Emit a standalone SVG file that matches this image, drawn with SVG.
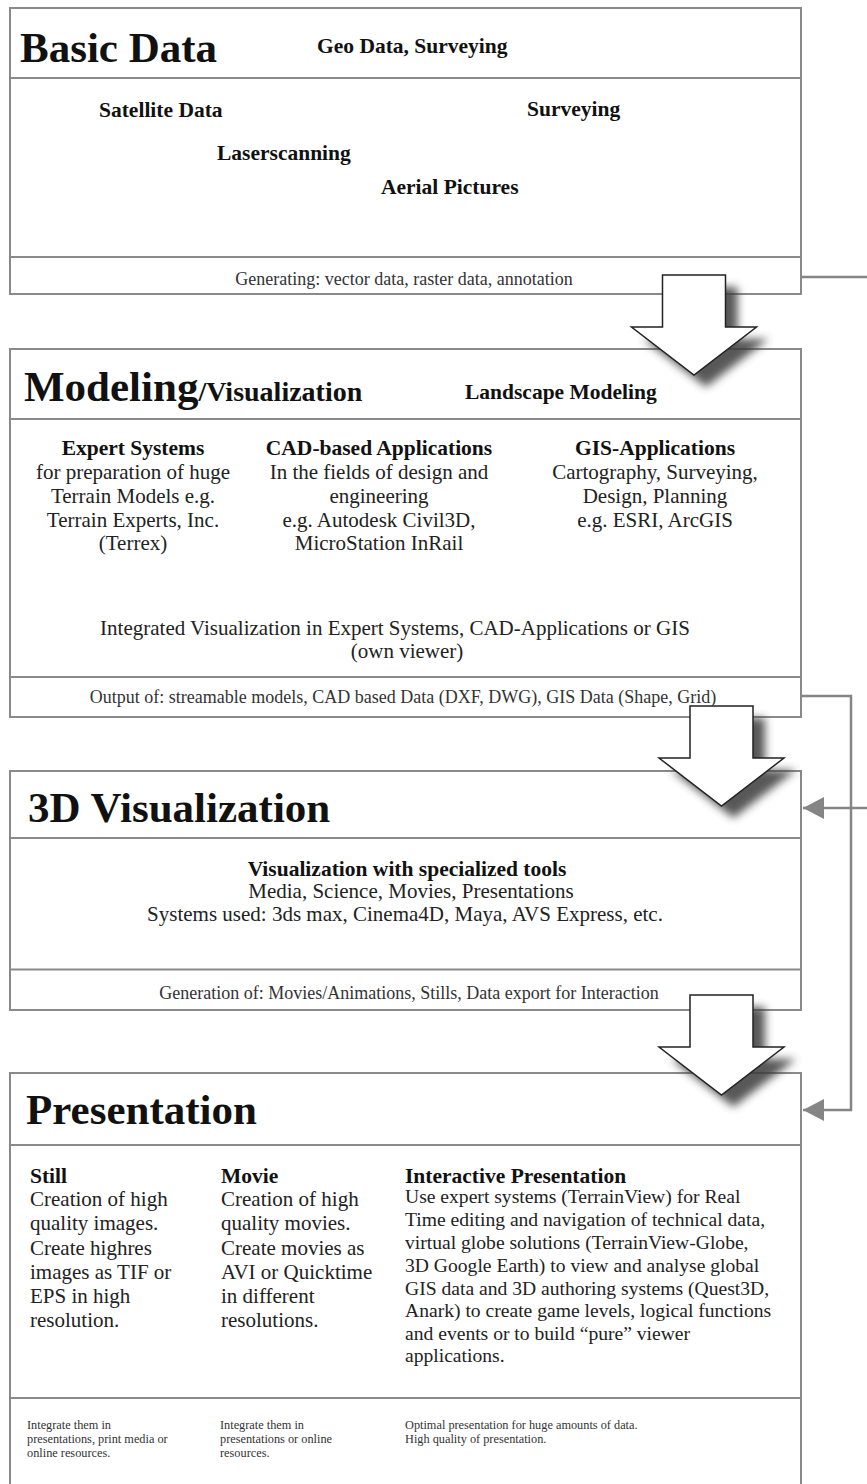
<svg xmlns="http://www.w3.org/2000/svg" width="867" height="1484" viewBox="0 0 867 1484">
<style>
.box{fill:#fff;stroke:#8a8a8a;stroke-width:2}
.sep{stroke:#8a8a8a;stroke-width:2;fill:none}
.title{font-family:"Liberation Serif",serif;font-weight:bold;font-size:43px;fill:#111}
.sub{font-family:"Liberation Serif",serif;font-weight:bold;font-size:21.5px;fill:#111}
.body{font-family:"Liberation Serif",serif;font-size:21px;fill:#222}
.ib{font-family:"Liberation Serif",serif;font-size:19.6px;fill:#222}
.foot{font-family:"Liberation Serif",serif;font-size:18px;fill:#333}
.small{font-family:"Liberation Serif",serif;font-size:12.3px;fill:#333}
.mid{text-anchor:middle}
.conn{stroke:#858585;stroke-width:2.5;fill:none}
.arrow{fill:#fff;stroke:#222;stroke-width:1.5;stroke-linejoin:miter}
.shadow{fill:#3a3a3a;opacity:0.85}
</style>
<defs>
<path id="blk" d="M-31.5,0 H31.5 V52 H62.5 L0,100 L-62.5,52 H-31.5 Z"/>
<filter id="blur" x="-30%" y="-30%" width="160%" height="160%"><feGaussianBlur stdDeviation="4"/></filter>
<marker id="ah" markerUnits="userSpaceOnUse" markerWidth="22" markerHeight="22" refX="21" refY="11" orient="auto">
<path d="M0,0 L21,11 L0,22 Z" fill="#858585"/>
</marker>
</defs>

<g id="basic-data">
<rect class="box" x="10" y="8" width="791" height="286"/>
<line class="sep" x1="10" y1="78" x2="801" y2="78"/>
<line class="sep" x1="10" y1="257" x2="801" y2="257"/>
<text class="title" x="20" y="62">Basic Data</text>
<text class="sub" x="317" y="53">Geo Data, Surveying</text>
<text class="sub" x="99" y="117">Satellite Data</text>
<text class="sub" x="527" y="116">Surveying</text>
<text class="sub" x="217" y="160">Laserscanning</text>
<text class="sub" x="381" y="194">Aerial Pictures</text>
<text class="foot mid" x="404" y="285">Generating: vector data, raster data, annotation</text>
</g>

<g id="modeling">
<rect class="box" x="10" y="349" width="791" height="368"/>
<line class="sep" x1="10" y1="419" x2="801" y2="419"/>
<line class="sep" x1="10" y1="677" x2="801" y2="677"/>
<text class="title" x="24" y="401">Modeling<tspan font-size="28px">/Visualization</tspan></text>
<text class="sub" x="465" y="399">Landscape Modeling</text>
<text class="sub mid" x="133" y="455">Expert Systems</text>
<text class="body mid" x="133" y="479">for preparation of huge</text>
<text class="body mid" x="133" y="503">Terrain Models e.g.</text>
<text class="body mid" x="133" y="527">Terrain Experts, Inc.</text>
<text class="body mid" x="133" y="550">(Terrex)</text>
<text class="sub mid" x="379" y="455">CAD-based Applications</text>
<text class="body mid" x="379" y="479">In the fields of design and</text>
<text class="body mid" x="379" y="503">engineering</text>
<text class="body mid" x="379" y="527">e.g. Autodesk Civil3D,</text>
<text class="body mid" x="379" y="550">MicroStation InRail</text>
<text class="sub mid" x="655" y="455">GIS-Applications</text>
<text class="body mid" x="655" y="479">Cartography, Surveying,</text>
<text class="body mid" x="655" y="503">Design, Planning</text>
<text class="body mid" x="655" y="527">e.g. ESRI, ArcGIS</text>
<text class="body mid" x="395" y="635">Integrated Visualization in Expert Systems, CAD-Applications or GIS</text>
<text class="body mid" x="407" y="658">(own viewer)</text>
<text class="foot mid" x="403" y="703">Output of: streamable models, CAD based Data (DXF, DWG), GIS Data (Shape, Grid)</text>
</g>

<g id="visualization-3d">
<rect class="box" x="10" y="771" width="791" height="239"/>
<line class="sep" x1="10" y1="838" x2="801" y2="838"/>
<line class="sep" x1="10" y1="969.5" x2="801" y2="969.5" stroke-width="3.5"/>
<text class="title" x="28" y="822">3D Visualization</text>
<text class="sub mid" x="407" y="876">Visualization with specialized tools</text>
<text class="body mid" x="411" y="898">Media, Science, Movies, Presentations</text>
<text class="body mid" x="405" y="921">Systems used: 3ds max, Cinema4D, Maya, AVS Express, etc.</text>
<text class="foot mid" x="409" y="999">Generation of: Movies/Animations, Stills, Data export for Interaction</text>
</g>

<g id="presentation">
<rect class="box" x="10" y="1073" width="791" height="420"/>
<line class="sep" x1="10" y1="1145" x2="801" y2="1145"/>
<line class="sep" x1="10" y1="1398" x2="801" y2="1398"/>
<text class="title" x="26" y="1124">Presentation</text>
<text class="sub" x="30" y="1183">Still</text>
<text class="body" x="30" y="1206">Creation of high</text>
<text class="body" x="30" y="1230">quality images.</text>
<text class="body" x="30" y="1255">Create highres</text>
<text class="body" x="30" y="1279">images as TIF or</text>
<text class="body" x="30" y="1303">EPS in high</text>
<text class="body" x="30" y="1327">resolution.</text>
<text class="sub" x="221" y="1183">Movie</text>
<text class="body" x="221" y="1206">Creation of high</text>
<text class="body" x="221" y="1230">quality movies.</text>
<text class="body" x="221" y="1255">Create movies as</text>
<text class="body" x="221" y="1279">AVI or Quicktime</text>
<text class="body" x="221" y="1303">in different</text>
<text class="body" x="221" y="1327">resolutions.</text>
<text class="sub" x="405" y="1183">Interactive Presentation</text>
<text class="ib" x="405" y="1203">Use expert systems (TerrainView) for Real</text>
<text class="ib" x="405" y="1226">Time editing and navigation of technical data,</text>
<text class="ib" x="405" y="1249">virtual globe solutions (TerrainView-Globe,</text>
<text class="ib" x="405" y="1272">3D Google Earth) to view and analyse global</text>
<text class="ib" x="405" y="1295">GIS data and 3D authoring systems (Quest3D,</text>
<text class="ib" x="405" y="1317">Anark) to create game levels, logical functions</text>
<text class="ib" x="405" y="1340">and events or to build “pure” viewer</text>
<text class="ib" x="405" y="1362">applications.</text>
<text class="small" x="27" y="1429">Integrate them in</text>
<text class="small" x="27" y="1443">presentations, print media or</text>
<text class="small" x="27" y="1457">online resources.</text>
<text class="small" x="220" y="1429">Integrate them in</text>
<text class="small" x="220" y="1443">presentations or online</text>
<text class="small" x="220" y="1457">resources.</text>
<text class="small" x="405" y="1429">Optimal presentation for huge amounts of data.</text>
<text class="small" x="405" y="1443">High quality of presentation.</text>
</g>

<g id="connectors">
<line class="conn" x1="801" y1="277" x2="867" y2="277"/>
<polyline class="conn" points="801,696 851,696 851,1110 803,1110" marker-end="url(#ah)"/>
<line class="conn" x1="867" y1="808" x2="803" y2="808" marker-end="url(#ah)"/>
<g id="flow-arrows">
<use href="#blk" class="shadow" filter="url(#blur)" transform="translate(706,287)"/>
<use href="#blk" class="arrow" transform="translate(694,275)"/>
<use href="#blk" class="shadow" filter="url(#blur)" transform="translate(733.5,718)"/>
<use href="#blk" class="arrow" transform="translate(721.5,706)"/>
<use href="#blk" class="shadow" filter="url(#blur)" transform="translate(733.5,1007)"/>
<use href="#blk" class="arrow" transform="translate(721.5,995)"/>
</g>
</g>
</svg>
